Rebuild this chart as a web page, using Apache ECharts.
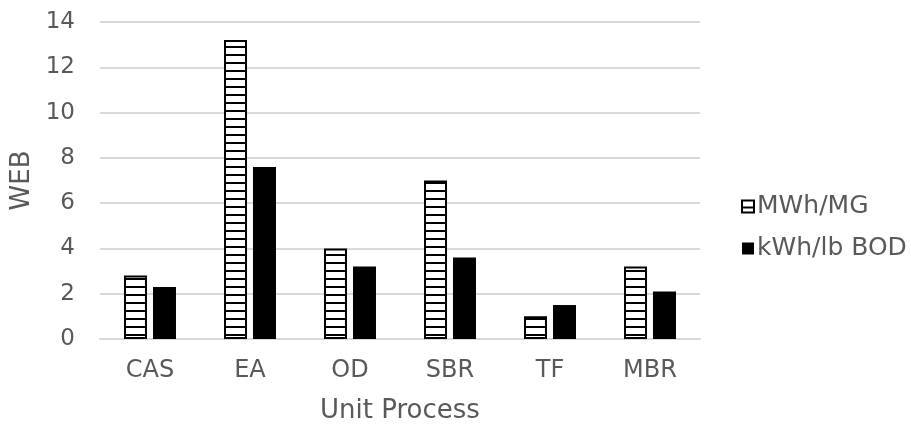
<!DOCTYPE html>
<html>
<head>
<meta charset="utf-8">
<script src="https://cdn.jsdelivr.net/npm/echarts@6/dist/echarts.min.js"></script>
<style>
  html, body { margin: 0; padding: 0; background: #fff; }
  #chart { width: 911px; height: 424px; }
</style>
</head>
<body>
<div id="chart"></div>
<script>
// Weighted energy benchmarks per unit process
const categories = ['CAS', 'EA', 'OD', 'SBR', 'TF', 'MBR'];
const mwhPerMG = [2.8, 13.2, 4.0, 7.0, 1.0, 3.2];
const kwhPerLbBOD = [2.3, 7.6, 3.2, 3.6, 1.5, 2.1];
const yTicks = [0, 2, 4, 6, 8, 10, 12, 14];

// Horizontal-stripe fill for the MWh/MG bars
function stripePattern() {
  const c = document.createElement('canvas');
  c.width = 8; c.height = 8;
  const g = c.getContext('2d');
  g.fillStyle = '#ffffff';
  g.fillRect(0, 0, 8, 8);
  g.fillStyle = '#000000';
  g.fillRect(0, 6, 8, 2);
  return c;
}

const textColor = '#595959';
const font = 'DejaVu Sans, Verdana, sans-serif';

const chart = echarts.init(document.getElementById('chart'), null, { renderer: 'canvas' });
chart.setOption({
  animation: false,
  backgroundColor: '#ffffff',
  grid: { left: 100, right: 211, top: 22, bottom: 85, containLabel: false, outerBoundsMode: 'none' },
  legend: {
    orient: 'vertical',
    left: 736,
    top: 189,
    itemWidth: 12,
    itemHeight: 12,
    itemGap: 17,
    icon: 'rect',
    textStyle: { color: textColor, fontSize: 25, fontFamily: font, padding: [0, 0, 0, -2] },
    data: ['MWh/MG', 'kWh/lb BOD']
  },
  xAxis: {
    type: 'category',
    data: categories,
    name: 'Unit Process',
    nameLocation: 'middle',
    nameGap: 59,
    nameTextStyle: { color: textColor, fontSize: 26, fontFamily: font },
    axisLine: { lineStyle: { color: '#d9d9d9', width: 2 } },
    axisTick: { show: false },
    axisLabel: { color: textColor, fontSize: 24, fontFamily: font, margin: 20 }
  },
  yAxis: {
    type: 'value',
    min: yTicks[0],
    max: yTicks[yTicks.length - 1],
    interval: 2,
    name: 'WEB',
    nameLocation: 'middle',
    nameGap: 64,
    nameRotate: 90,
    nameTextStyle: { color: textColor, fontSize: 26, fontFamily: font },
    axisLine: { show: false },
    axisTick: { show: false },
    axisLabel: { color: textColor, fontSize: 23, fontFamily: font, margin: 25 },
    splitLine: { lineStyle: { color: '#d9d9d9', width: 2 } }
  },
  series: [
    {
      name: 'MWh/MG',
      type: 'bar',
      data: mwhPerMG,
      barWidth: 23,
      barGap: '26%',
      itemStyle: {
        color: { image: stripePattern(), repeat: 'repeat' },
        borderColor: '#000000',
        borderWidth: 2
      }
    },
    {
      name: 'kWh/lb BOD',
      type: 'bar',
      data: kwhPerLbBOD,
      barWidth: 23,
      itemStyle: { color: '#000000' }
    }
  ]
});
</script>
</body>
</html>
